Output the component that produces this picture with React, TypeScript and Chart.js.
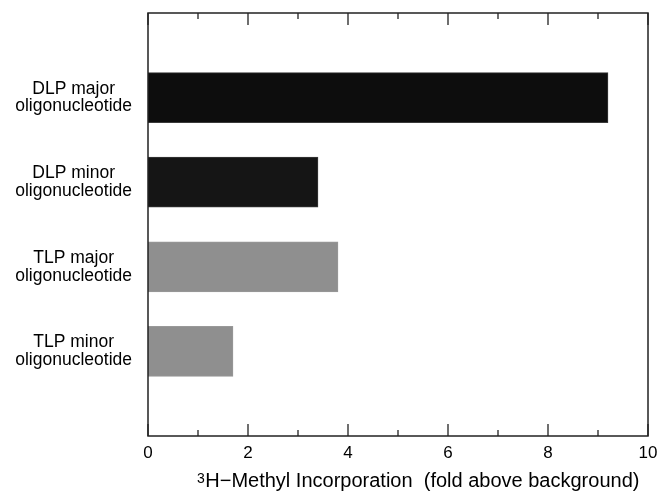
import React, { useEffect, useRef } from "react";
import { Chart, registerables } from "chart.js";

Chart.register(...registerables);

const categories: string[][] = [
  [],
  ["DLP major", "oligonucleotide"],
  ["DLP minor", "oligonucleotide"],
  ["TLP major", "oligonucleotide"],
  ["TLP minor", "oligonucleotide"],
  [],
];
const values: (number | null)[] = [null, 9.2, 3.4, 3.8, 1.7, null];
const barColors: string[] = ["#000", "#0d0d0d", "#151515", "#8f8f8f", "#8f8f8f", "#000"];
const xTickValues: number[] = [0, 1, 2, 3, 4, 5, 6, 7, 8, 9, 10];
const xTitleSup = "3";
const xTitleMain = "H−Methyl Incorporation  (fold above background)";

const FONT = "'Liberation Sans', Arial, Helvetica, sans-serif";

const framePlugin = {
  id: "frameTicks",
  afterDraw(chart: any) {
    const { ctx, chartArea } = chart;
    const xs = chart.scales.x;
    ctx.save();
    ctx.strokeStyle = "#222";
    ctx.lineWidth = 1.5;
    ctx.strokeRect(chartArea.left, chartArea.top, chartArea.right - chartArea.left, chartArea.bottom - chartArea.top);
    ctx.lineWidth = 1.3;
    xTickValues.forEach((v) => {
      const px = xs.getPixelForValue(v);
      const len = v % 2 === 0 ? 12 : 6;
      ctx.beginPath();
      ctx.moveTo(px, chartArea.bottom);
      ctx.lineTo(px, chartArea.bottom - len);
      ctx.moveTo(px, chartArea.top);
      ctx.lineTo(px, chartArea.top + len);
      ctx.stroke();
    });
    // axis title with superscript
    const baseY = chartArea.bottom + 51;
    let x = chartArea.left + 49;
    ctx.fillStyle = "#000";
    ctx.textBaseline = "alphabetic";
    ctx.textAlign = "left";
    ctx.font = `14px ${FONT}`;
    ctx.fillText(xTitleSup, x, baseY - 4);
    x += ctx.measureText(xTitleSup).width + 0.5;
    ctx.font = `20px ${FONT}`;
    ctx.fillText(xTitleMain, x, baseY);
    ctx.restore();
  },
};

export default function App() {
  const ref = useRef<HTMLCanvasElement | null>(null);
  useEffect(() => {
    if (!ref.current) return;
    const chart = new Chart(ref.current, {
      type: "bar",
      data: {
        labels: categories,
        datasets: [
          {
            data: values,
            backgroundColor: barColors,
            borderColor: barColors.map((c) => (c === "#8f8f8f" ? "#999" : "#3a3a3a")),
            borderWidth: 1,
            barThickness: 50,
          },
        ],
      },
      options: {
        indexAxis: "y",
        animation: false,
        responsive: true,
        maintainAspectRatio: false,
        layout: { padding: { top: 13, right: 10, left: 0, bottom: 0 } },
        plugins: { legend: { display: false }, tooltip: { enabled: false } },
        scales: {
          x: {
            type: "linear",
            min: 0,
            max: 10,
            afterFit: (s: any) => {
              s.height = 60;
              s.paddingLeft = 0;
              s.paddingRight = 0;
            },
            afterBuildTicks: (s: any) => {
              s.ticks = xTickValues.map((v) => ({ value: v }));
            },
            ticks: {
              autoSkip: false,
              maxRotation: 0,
              padding: 7,
              color: "#000",
              font: { family: FONT, size: 17 },
              callback: (v: any) => (Number(v) % 2 === 0 ? String(v) : ""),
            },
            grid: { display: false, drawTicks: false },
            border: { display: false },
            title: { display: false },
          },
          y: {
            type: "category",
            offset: false,
            afterFit: (s: any) => {
              s.width = 148;
              s.paddingTop = 0;
              s.paddingBottom = 0;
            },
            ticks: {
              autoSkip: false,
              padding: 16,
              color: "#000",
              font: { family: FONT, size: 17.5, lineHeight: 1.02 },
              crossAlign: "center",
            },
            grid: { display: false, drawTicks: false },
            border: { display: false },
          },
        },
      },
      plugins: [framePlugin],
    });
    return () => chart.destroy();
  }, []);
  return (
    <div style={{ position: "fixed", left: 0, top: 0, width: 658, height: 496, background: "#fff" }}>
      <canvas ref={ref} />
    </div>
  );
}
